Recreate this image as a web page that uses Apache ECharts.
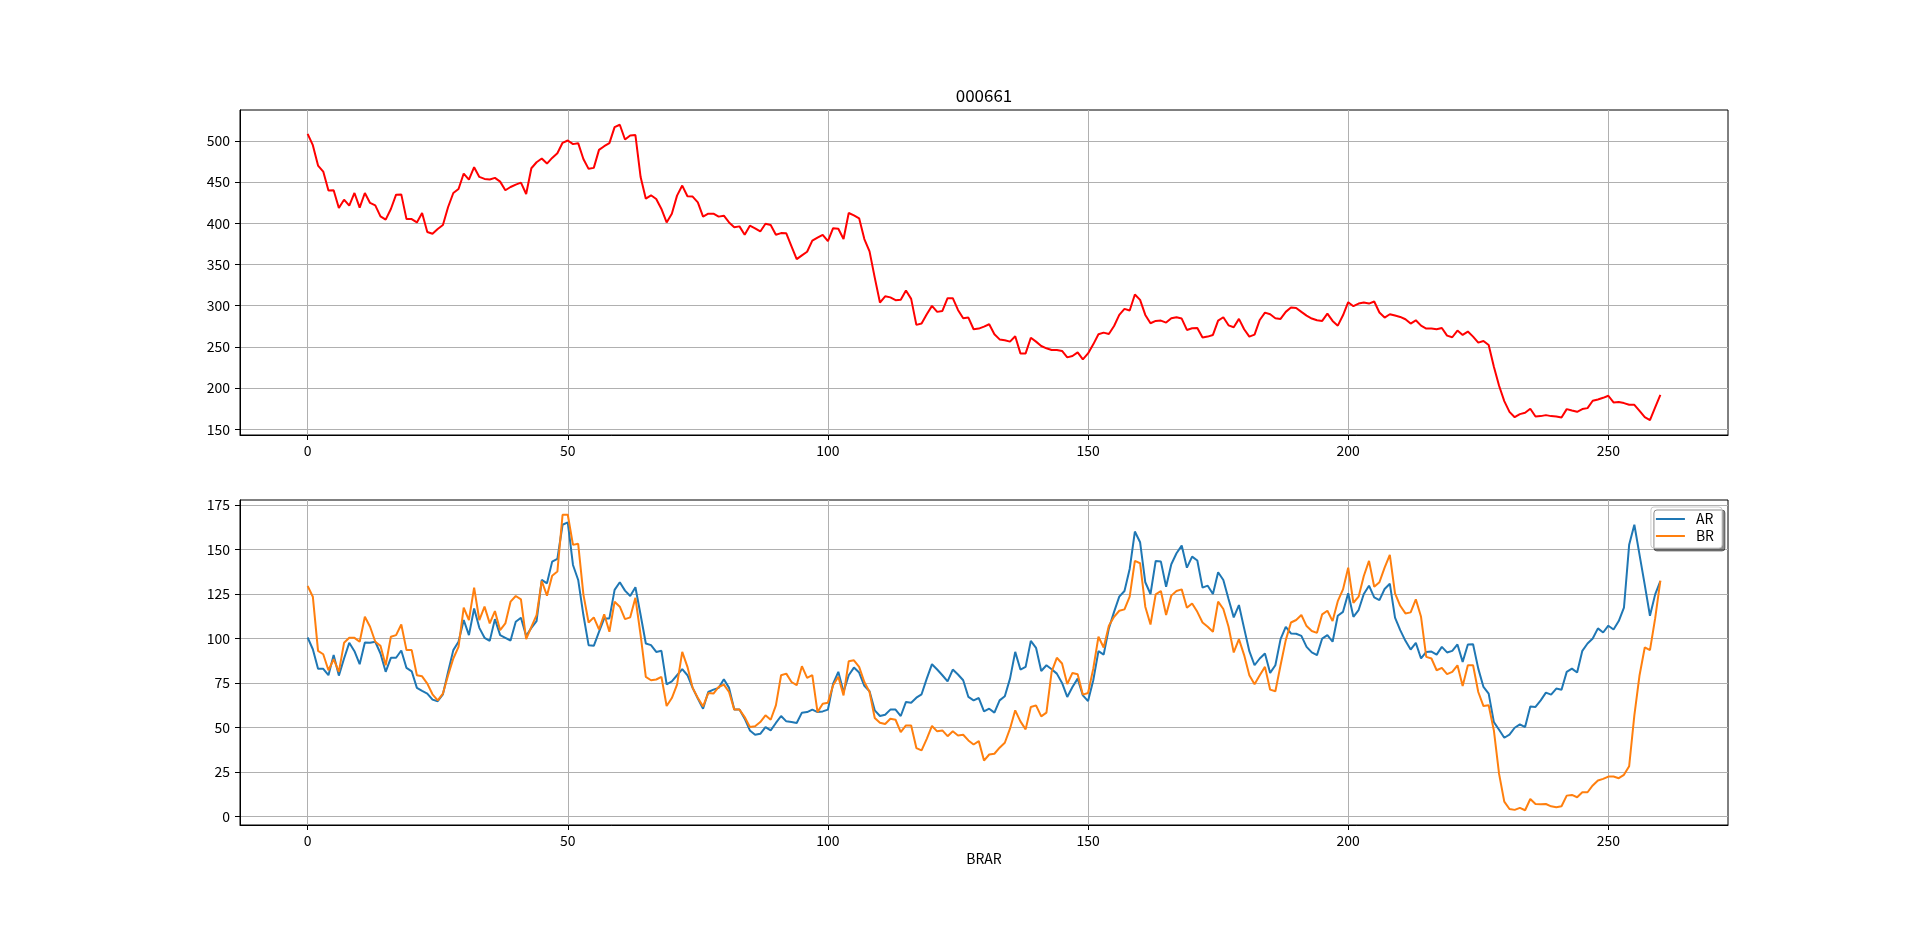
<!DOCTYPE html>
<html><head><meta charset="utf-8">
<script src="https://cdn.jsdelivr.net/npm/echarts@6/dist/echarts.min.js"></script>
<style>html,body{margin:0;padding:0;background:#fff}#c{width:1920px;height:927px}</style>
</head><body><div id="c"></div>
<script>
const FONT = '"Liberation Sans Narrow","Noto Sans CJK SC",sans-serif';
const chartTitle = '000661';
const xLabel = 'BRAR';
const xTicks = [0, 50, 100, 150, 200, 250];
const priceTicks = [150, 200, 250, 300, 350, 400, 450, 500];
const brarTicks = [0, 25, 50, 75, 100, 125, 150, 175];

const price = [508.5,494.7,470,462.7,439.6,440,418.5,428.6,421.3,436.7,
 419,436.7,424.6,421.7,408.4,404.3,417.3,434.7,435,405,
 405,401,412.4,389.3,387.3,393,397.8,419.7,436.7,441.6,
 460.3,453,468,456.2,453.8,453,455,450.5,440,444,
 446.9,449.3,435.5,466.7,474,478.5,472.4,479.3,485,497.6,
 500.4,496,497.2,478,466,467.2,489,493.5,497.2,516.6,
 519.5,501.6,506.5,507,456,429.8,433.9,429.4,417.3,401,
 411.6,433.5,445.7,432.7,432.3,425.4,408,411.6,411.6,408,
 409.2,401,395,396.2,386,397,393.8,390,399.4,397.8,
 386,388,387.7,371.9,356.4,361,365.4,378.8,382.5,386,
 378.3,394,393.3,380.8,412.4,409.6,406,380.8,365.8,334,
 303.7,311.3,310,306.6,307,318.3,308.2,276.6,278.2,289.5,
 299.7,292.4,293.6,309,309,294.8,284.7,285.5,271.3,272.1,
 274.5,277.4,265.2,259,257.9,256.3,262.8,242,242,261,
 256.3,251,248.2,246.2,246.2,245,237.2,238.9,243.3,234.8,
 242,253,265.2,267.2,265.6,275.3,288.7,296,294,313.5,
 307,288.7,278.6,281.4,281.8,279.4,284.7,285.9,284.3,270.5,
 272.5,272.9,261.2,262.4,264.4,281.8,285.9,276.1,273.7,283.9,
 271.3,262.4,264.8,282.6,291.5,289.5,284.7,283.9,292.4,297.6,
 297.2,292.4,287.9,284.3,282.2,281.4,290.3,281.4,275.7,288.3,
 304.1,299.3,302.5,303.7,302.5,305,291.6,285.5,289.5,287.9,
 286.3,283.5,278.2,282.2,275.7,272.1,272.1,271.3,272.9,263.6,
 261.6,269.7,264.4,268.5,262.4,255.1,257.1,252.2,225.9,202.8,
 184.1,171.1,164.6,168.3,169.9,174.8,165.5,165.9,167.1,165.9,
 165.5,164.2,174.4,172.7,171.1,174.4,175.6,184.5,186.1,188.1,
 190.6,182.5,182.9,181.7,179.6,179.6,172.3,164.6,160.9,176.4,
 191.8];

const AR = [100.6,94,83.1,83,79.4,90.7,79.2,88.8,97.6,92.9,
 85.6,97.8,97.6,98.2,91.6,81.3,89.2,89.2,93.3,83.5,
 81.6,72.3,70.6,69.1,65.7,64.8,68.7,81.3,93.5,98.2,
 110.4,101.9,116.9,106,100.4,98.7,110.9,101.9,100.4,98.9,
 109.4,111.7,101.4,106,109.8,132.9,131,143.2,144.7,163.9,
 165.2,141.3,132.9,113.2,96.3,95.9,103.8,111.3,111.3,127.3,
 131.6,126.9,123.9,128.8,113.2,97.2,96.3,92.5,93.1,74.3,
 76,79.4,82.8,79.4,72.3,66.3,60.6,70,71.3,72.3,
 77.1,72.3,60.1,60.1,55,48.4,46,46.5,50.3,48.4,
 52.6,56.5,53.5,53.1,52.6,58.4,58.7,60.1,58.7,59.1,
 60.1,74.7,81.3,70,79.4,83.7,80.9,73.4,70.4,59.7,
 56.5,57.2,60.1,60.1,56.5,64.4,64,66.8,68.7,77.5,
 85.6,82.6,79.4,76,82.6,79.8,76.6,67.2,65.3,66.6,
 59.1,60.6,58.4,65.3,67.6,77.5,92.5,82.6,84.1,98.7,
 94.8,81.8,85,82.8,80.3,75.1,67.2,72.8,77.5,68.1,
 64.9,76.6,92.9,91,105.7,115,123.5,126.7,139.1,160.1,
 154.1,131.6,125,143.6,143.2,129.1,141.7,147.9,152.2,139.8,
 146,143.8,128.6,129.7,125,137.2,132.9,122.2,111.9,118.8,
 105.7,92.9,85,88.8,91.6,80.7,85,99.7,106.6,102.9,
 102.7,101.5,95.3,92.2,90.7,100,101.9,98.2,112.8,115,
 125.4,112.2,116,125,129.7,123.1,121.6,127.8,130.8,111.7,
 104.7,98.7,93.8,97.6,88.8,92.5,92.7,91,95.3,92.2,
 93.1,96.7,86.9,96.7,96.8,83.1,72.8,69.1,53.1,48.8,
 44.3,46,49.9,51.8,50.3,61.9,61.6,65.3,69.6,68.5,
 71.9,71.3,81.3,83.1,80.9,93.1,97.2,100,105.7,103.4,
 107.2,105.1,109.8,117.3,152.6,163.9,147,130.1,112.8,124.8,
 132.3];

const BR = [129.5,123.5,93.1,91.2,82.2,88.4,81.3,97.6,100.4,100.4,
 98.2,112.2,106.6,98.2,95.9,85,101,101.9,107.9,93.5,
 93.5,79.4,78.8,74.7,68.7,65.3,69.1,79.4,88.8,95.3,
 117.3,110.4,128.6,110.4,117.9,108.5,115.4,104.7,108.5,120.7,
 123.9,122,99.7,106.6,113.2,132.3,124.1,135.3,137.6,169.5,
 169.5,152.6,153.2,124.8,109,111.9,105.1,113.6,103.8,120.7,
 117.9,110.9,111.9,122.9,101.9,78.5,76.6,77,78.5,62.1,
 66.6,74.1,92.5,84.1,72.3,66.6,61.9,69.4,69.1,72.8,
 74.1,70,60.1,60.1,55.9,50.3,50.7,53.1,56.9,54.4,
 62.5,79.4,80.3,75.6,73.8,84.5,77.9,79.4,58.7,63.4,
 64,73.8,78.5,68.1,87.3,87.8,84.1,75.6,70,55.4,
 52.7,52,55,54.4,47.5,51.2,51.2,38.5,37.2,43.7,
 50.9,47.9,48.4,45.2,47.9,45.6,46,42.8,40.5,42.4,
 31.5,34.9,35.3,38.7,41.5,49.4,59.7,53.5,49,61.6,
 62.5,56.3,58.4,81.3,89.2,86,74.5,80.7,80,68.5,
 69.4,83.1,101,95,107.2,112.2,115.6,116.4,123.5,143.6,
 142.3,117.9,107.9,124.8,126.7,113.2,124.1,126.7,127.6,117.3,
 119.7,115,109,106.6,103.8,120.7,116.6,106.6,92.2,99.7,
 90.7,79.4,74.3,79.4,84.1,71.3,70.4,85,99.1,109,
 110.4,113.2,107,104.2,103.2,113.6,115.6,109.8,121,127.6,
 139.8,120.1,123.5,135.1,143.6,129.1,131.6,139.8,147,125.4,
 118.4,114.1,114.7,122,112.2,89.7,88.8,82.2,83.5,80,
 81.3,85,73.4,85,85,70,62.1,62.5,48.4,24,
 8.4,4.3,3.8,4.9,3.6,9.9,7.1,6.9,7.1,5.8,
 5.3,5.8,11.8,12.2,10.9,13.7,13.7,17.5,20.3,21.2,
 22.5,22.5,21.6,23.5,28.3,56.9,79.4,95,93.5,111.3,
 132.5];

const idx = price.map((_, i) => i);

function padRange(arrs) {
  let mn = Infinity, mx = -Infinity;
  arrs.forEach(a => a.forEach(v => { if (v < mn) mn = v; if (v > mx) mx = v; }));
  const m = (mx - mn) * 0.05;
  return [mn - m, mx + m];
}
const xr = padRange([idx]);
const pr = padRange([price]);
const brr = padRange([AR, BR]);

function xAxisCfg(gi) {
  return {
    type: 'value', gridIndex: gi, min: xr[0], max: xr[1],
    axisLine: { show: true, onZero: false, lineStyle: { color: '#000', width: 1 } },
    axisTick: { show: true, length: 5, lineStyle: { color: '#000', width: 1 }, customValues: xTicks },
    axisLabel: { show: true, margin: 9, color: '#000', fontSize: 14, fontFamily: FONT, customValues: xTicks },
    splitLine: { show: true, lineStyle: { color: '#b0b0b0', width: 1 } }
  };
}
function yAxisCfg(gi, r, ticks) {
  return {
    type: 'value', gridIndex: gi, min: r[0], max: r[1],
    axisLine: { show: true, onZero: false, lineStyle: { color: '#000', width: 1 } },
    axisTick: { show: true, length: 5, lineStyle: { color: '#000', width: 1 }, customValues: ticks },
    axisLabel: { show: true, margin: 10, color: '#000', fontSize: 14, fontFamily: FONT, customValues: ticks },
    splitLine: { show: true, lineStyle: { color: '#b0b0b0', width: 1 } }
  };
}

const chart = echarts.init(document.getElementById('c'), null, { renderer: 'canvas' });
chart.setOption({
  animation: false,
  backgroundColor: '#fff',
  grid: [
    { left: 240, top: 110, width: 1488, height: 325, show: true, borderColor: '#000', borderWidth: 1, backgroundColor: 'transparent' },
    { left: 240, top: 500, width: 1488, height: 325, show: true, borderColor: '#000', borderWidth: 1, backgroundColor: 'transparent' }
  ],
  xAxis: [xAxisCfg(0), xAxisCfg(1)],
  yAxis: [yAxisCfg(0, pr, priceTicks), yAxisCfg(1, brr, brarTicks)],
  legend: {
    data: ['AR', 'BR'], orient: 'vertical', right: 198, top: 507,
    icon: 'rect', itemWidth: 29, itemHeight: 2, itemGap: 3,
    padding: [5, 8, 5, 5],
    backgroundColor: '#fff', borderColor: '#ccc', borderWidth: 1, borderRadius: 3,
    shadowColor: 'rgba(0,0,0,0.45)', shadowOffsetX: 3, shadowOffsetY: 3, shadowBlur: 0,
    textStyle: { color: '#000', fontSize: 14, fontFamily: FONT, padding: [0, 0, 0, 6] }
  },
  graphic: [
    { type: 'text', x: 984, y: 96, style: { text: chartTitle, fill: '#000', font: '17px ' + FONT, textAlign: 'center', textVerticalAlign: 'middle' } },
    { type: 'text', x: 984, y: 859, style: { text: xLabel, fill: '#000', font: '14px ' + FONT, textAlign: 'center', textVerticalAlign: 'middle' } }
  ],
  series: [
    { type: 'line', name: 'price', xAxisIndex: 0, yAxisIndex: 0, data: idx.map(i => [i, price[i]]),
      showSymbol: false, symbol: 'none', lineStyle: { color: '#ff0000', width: 2 }, itemStyle: { color: '#ff0000' } },
    { type: 'line', name: 'AR', xAxisIndex: 1, yAxisIndex: 1, data: idx.map(i => [i, AR[i]]),
      showSymbol: false, symbol: 'none', lineStyle: { color: '#1f77b4', width: 2 }, itemStyle: { color: '#1f77b4' } },
    { type: 'line', name: 'BR', xAxisIndex: 1, yAxisIndex: 1, data: idx.map(i => [i, BR[i]]),
      showSymbol: false, symbol: 'none', lineStyle: { color: '#ff7f0e', width: 2 }, itemStyle: { color: '#ff7f0e' } }
  ]
});
</script>
</body></html>
